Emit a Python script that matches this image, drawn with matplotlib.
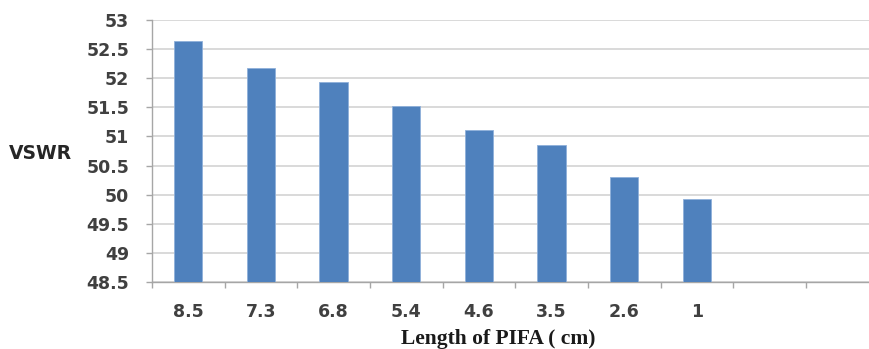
import matplotlib
matplotlib.use('Agg')
from matplotlib import pyplot as plt
import numpy as np

# data
lengths = ['8.5', '7.3', '6.8', '5.4', '4.6', '3.5', '2.6', '1', '', '']
vswr = [52.64, 52.18, 51.93, 51.52, 51.11, 50.85, 50.31, 49.92]
y_ticks = [48.5, 49, 49.5, 50, 50.5, 51, 51.5, 52, 52.5, 53]


def main():
    fig = plt.figure(figsize=(8.7, 3.49), dpi=100)
    ax = fig.add_axes([0.1747, 0.192, 0.835, 0.751])

    x = np.arange(len(vswr))
    ax.bar(x, np.array(vswr) - 48.5, bottom=48.5, width=0.39,
           color='#4F81BD', edgecolor='#8FB0DA', linewidth=0.6, zorder=3)

    ax.set_xlim(-0.5, len(lengths) - 0.5)
    ax.set_ylim(48.5, 53)
    ax.set_yticks(y_ticks)
    ax.set_yticklabels([('%g' % v) for v in y_ticks])
    ax.grid(axis='y', color='#D9D9D9', linewidth=1.4, zorder=0)

    # category labels at centres, tick marks at boundaries
    ax.set_xticks(np.arange(len(lengths)))
    ax.set_xticklabels(lengths)
    ax.set_xticks(np.arange(len(lengths) + 1) - 0.5, minor=True)
    ax.tick_params(axis='x', which='major', length=0, pad=15)
    ax.tick_params(axis='x', which='minor', length=4.5, color='#A6A6A6', width=1)
    ax.tick_params(axis='y', length=4.5, color='#A6A6A6', width=1, pad=12)

    for lab in ax.get_xticklabels() + ax.get_yticklabels():
        lab.set_fontsize(12.5)
        lab.set_fontweight('bold')
        lab.set_color('#404040')

    for s in ['top', 'right']:
        ax.spines[s].set_visible(False)
    for s in ['left', 'bottom']:
        ax.spines[s].set_color('#A6A6A6')
        ax.spines[s].set_linewidth(1)

    fig.text(0.047, 0.56, 'VSWR', fontsize=13.5, fontweight='bold',
             color='#262626', ha='center', va='center')
    fig.text(0.573, 0.03, 'Length of PIFA ( cm)', fontsize=15.5,
             fontweight='bold', family='Liberation Serif', color='#1a1a1a',
             ha='center', va='center')

    fig.savefig('out.png', dpi=100)


if __name__ == '__main__':
    main()
